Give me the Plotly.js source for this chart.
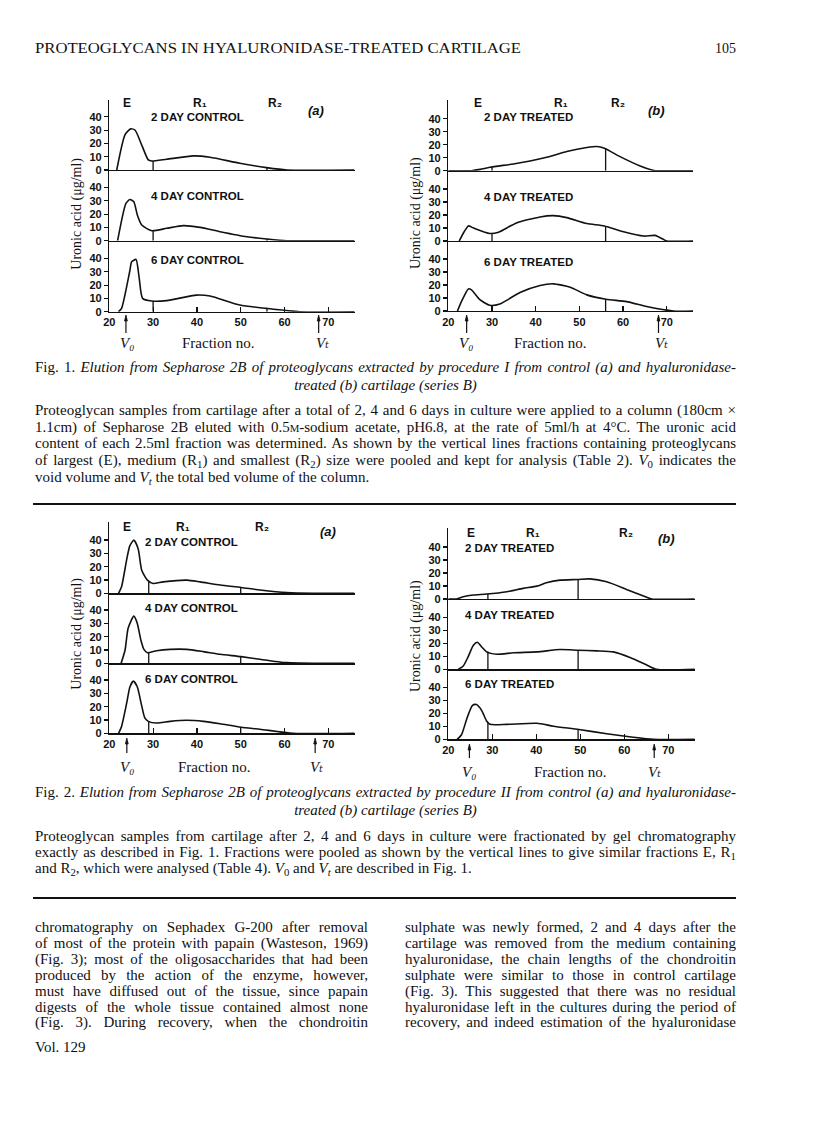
<!DOCTYPE html>
<html>
<head>
<meta charset="utf-8">
<script src="https://cdn.plot.ly/plotly-3.0.1.min.js"></script>
<style>
  html, body { margin: 0; padding: 0; background: #fff; }
  #page { position: relative; width: 816px; height: 1136px; overflow: hidden; background: #fff; }
  #chart { position: absolute; left: 0; top: 0; width: 816px; height: 1136px; }
  .ln { position: absolute; white-space: nowrap; font-family: 'Liberation Serif', serif;
        line-height: 16px; color: #111; transform-origin: 0 50%; }
  .ln sub { vertical-align: baseline; position: relative; top: 0.3em; }
  .it { font-style: italic; }
  .up { font-style: normal; }
  .rule { position: absolute; height: 2px; background: #111; }
</style>
</head>
<body>
<div id="page"><div id="chart"></div></div>
<script>
// ---- data (fraction no. vs uronic acid, µg/ml) ----

const xTicks = [20, 30, 40, 50, 60, 70];
const yTicks = [0, 10, 20, 30, 40];
const controlNames = ['2 DAY CONTROL', '4 DAY CONTROL', '6 DAY CONTROL'];
const treatedNames = ['2 DAY TREATED', '4 DAY TREATED', '6 DAY TREATED'];
const poolNames = ['E', 'R₁', 'R₂'];

// Fig. 1 (a) control
const f1a2x = [21.7, 23.6, 24.9, 25.9, 27.5, 28.9, 29.7, 33.1, 39.2, 43, 49.8, 55.9, 60.5, 76];
const f1a2y = [0, 26.6, 30.9, 29.9, 18, 7.6, 6.8, 8.1, 10.6, 9.6, 5.1, 1.8, 0, 0];
const f1a4x = [21.9, 23.8, 24.7, 25.6, 26.4, 27.4, 29.7, 33.1, 36.9, 40.7, 45.3, 51.4, 55.9, 60.5, 76];
const f1a4y = [0, 28, 31, 29.3, 19.3, 11.8, 7.5, 9.3, 11.3, 10, 6.8, 3, 1.3, 0, 0];
const f1a6x = [22.1, 22.8, 24.7, 25.1, 26.1, 26.8, 27.6, 29.7, 33.1, 39.9, 43, 49.8, 55.9, 63.5, 76];
const f1a6y = [0, 2.5, 31, 37.5, 39.3, 26, 10, 8, 8.3, 12.5, 11.8, 5, 2.5, 0, 0];
const f1aCuts = [30, 56];
const f1aCutH = [[6.8, 1.8], [7.5, 1.3], [8, 2.5]];

// Fig. 1 (b) treated
const f1b2x = [20, 25.3, 27.3, 29.5, 34.9, 38.7, 42.5, 47.1, 51.7, 54, 55.7, 59.3, 63.9, 66.6, 67.5, 76];
const f1b2y = [0, 0, 1, 2.6, 5.2, 7.5, 10.3, 14.7, 17.8, 18.6, 17.3, 10.8, 3.6, 0.5, 0, 0];
const f1b4x = [22.5, 23.4, 24.6, 25.7, 29.5, 31.5, 35.6, 41, 44, 47.1, 51.7, 55.7, 60.1, 64.7, 67.3, 69.2, 70, 76];
const f1b4y = [0, 5.8, 11.6, 10.1, 5.8, 6.8, 13.9, 18.5, 19.5, 18, 13.4, 11.6, 7.1, 3.8, 4.3, 1.3, 0, 0];
const f1b6x = [22.1, 23, 24.6, 25.3, 27.3, 29.5, 31.8, 36.4, 41, 44, 47.9, 51.7, 56.1, 60.8, 65.4, 71.5, 76];
const f1b6y = [0, 7.2, 17, 16.3, 8.5, 4.4, 5.4, 14.2, 19.6, 20.9, 18.3, 12.4, 9, 7.2, 3.4, 0, 0];
const f1bCuts = [30, 56];
const f1bCutH = [[2.6, 17.3], [5.8, 11.6], [4.4, 9]];

// Fig. 2 (a) control
const f2a2x = [22.1, 22.8, 24, 24.7, 25.6, 26.6, 27.4, 28.7, 30, 32.3, 37.7, 40.7, 45.3, 50.1, 54.4, 60.5, 66.6, 76];
const f2a2y = [0, 4.9, 25.9, 35.8, 40, 33.3, 17.3, 9.9, 7.4, 8.6, 9.9, 8.6, 6.2, 4.4, 2.5, 0.5, 0, 0];
const f2a4x = [22.7, 23.6, 24.3, 25.6, 26.4, 27.2, 27.9, 28.7, 30.8, 33.9, 37.7, 41.5, 45.3, 50.1, 54.4, 60.5, 66.6, 76];
const f2a4y = [0, 10, 26.3, 35.5, 30, 17.5, 10.5, 8, 9.5, 10.5, 10.5, 8.75, 6.75, 5, 3, 0.5, 0, 0];
const f2a6x = [22.1, 22.8, 24, 24.7, 25.5, 26.4, 27.4, 28.1, 28.9, 30.8, 33.9, 37.7, 41.5, 45.3, 50.1, 54.4, 62, 76];
const f2a6y = [0, 5.2, 23.2, 34.8, 39.2, 34.8, 20.6, 11.6, 9, 7.7, 9, 9.8, 9, 7.2, 4.6, 3.1, 0, 0];
const f2aCuts = [29, 50];
const f2aCutH = [[8.8, 4.4], [8.3, 5], [9, 4.6]];

// Fig. 2 (b) treated
const f2b2x = [20, 21.9, 23.4, 25.7, 28.7, 33.3, 37, 40.1, 42.3, 45.4, 49.4, 52.2, 56, 60.5, 65.1, 66.2, 76];
const f2b2y = [0, 0, 1.8, 3.1, 3.8, 5.6, 8.2, 9.9, 12.5, 14.5, 15, 15.5, 13.2, 7.4, 1.3, 0, 0];
const f2b4x = [22.3, 23.4, 24.5, 25.7, 26.6, 27.6, 28.7, 31, 34.8, 40.1, 45.4, 49.4, 53.7, 57.5, 61.3, 65.1, 67.3, 76];
const f2b4y = [0, 2.5, 9.6, 18.5, 20.8, 17.2, 13.4, 11.6, 12.7, 13.4, 15.2, 14.7, 14.2, 13.4, 9.1, 3.3, 0, 0];
const f2b6x = [22, 23, 24.3, 25.5, 26.4, 27.6, 28.7, 29.5, 33.3, 40.1, 43.9, 49.7, 56, 62, 66.6, 76];
const f2b6y = [0, 3.5, 16.8, 26.1, 26.7, 22.1, 14.1, 11.5, 11.5, 12.3, 10.1, 7.5, 4.3, 1.6, 0, 0];
const f2bCuts = [29, 49.5];
const f2bCutH = [[3.8, 15], [13.6, 14.8], [13, 7.6]];

// void volume / total bed volume arrows (fraction no.), one per panel
const v0At = [23.8, 24.2, 24, 24.8];
const vtAt = [67.8, 68.1, 67, 66.8];

// ---- page text ----
const headerText = 'PROTEOGLYCANS IN HYALURONIDASE-TREATED CARTILAGE';
const pageNo = '105';
const caption1 = [
  '<span class="up">Fig. 1.</span> Elution from Sepharose 2B of proteoglycans extracted by procedure I from control (a) and hyaluronidase-',
  'treated (b) cartilage (series B)'];
const para1 = [
  'Proteoglycan samples from cartilage after a total of 2, 4 and 6 days in culture were applied to a column (180cm ×',
  '1.1cm) of Sepharose 2B eluted with 0.5<small>M</small>-sodium acetate, pH6.8, at the rate of 5ml/h at 4°C. The uronic acid',
  'content of each 2.5ml fraction was determined. As shown by the vertical lines fractions containing proteoglycans',
  'of largest (E), medium (R<sub>1</sub>) and smallest (R<sub>2</sub>) size were pooled and kept for analysis (Table 2). <i>V</i><sub>0</sub> indicates the',
  'void volume and <i>V<sub>t</sub></i> the total bed volume of the column.'];
const caption2 = [
  '<span class="up">Fig. 2.</span> Elution from Sepharose 2B of proteoglycans extracted by procedure II from control (a) and hyaluronidase-',
  'treated (b) cartilage (series B)'];
const para2 = [
  'Proteoglycan samples from cartilage after 2, 4 and 6 days in culture were fractionated by gel chromatography',
  'exactly as described in Fig. 1. Fractions were pooled as shown by the vertical lines to give similar fractions E, R<sub>1</sub>',
  'and R<sub>2</sub>, which were analysed (Table 4). <i>V</i><sub>0</sub> and <i>V<sub>t</sub></i> are described in Fig. 1.'];
const bodyLeft = [
  'chromatography on Sephadex G-200 after removal',
  'of most of the protein with papain (Wasteson, 1969)',
  '(Fig. 3); most of the oligosaccharides that had been',
  'produced by the action of the enzyme, however,',
  'must have diffused out of the tissue, since papain',
  'digests of the whole tissue contained almost none',
  '(Fig. 3). During recovery, when the chondroitin'];
const bodyRight = [
  'sulphate was newly formed, 2 and 4 days after the',
  'cartilage was removed from the medium containing',
  'hyaluronidase, the chain lengths of the chondroitin',
  'sulphate were similar to those in control cartilage',
  '(Fig. 3). This suggested that there was no residual',
  'hyaluronidase left in the cultures during the period of',
  'recovery, and indeed estimation of the hyaluronidase'];
const footer = 'Vol. 129';

// ---- geometry (page pixels) ----
const W = 816, H = 1136;
const INK = '#111';
const SANS = 'Liberation Sans, DejaVu Sans, sans-serif';
const SERIF = 'Liberation Serif, DejaVu Serif, serif';
const TICKFONT = { family: SANS, size: 11, color: INK, weight: 'bold' };

const PANELS = [
  { curves: [[f1a2x, f1a2y], [f1a4x, f1a4y], [f1a6x, f1a6y]], cuts: f1aCuts, cutH: f1aCutH, names: controlNames, tag: '(a)',
    geo: { x20: 109.3, ppx: 4.38, top: 100, zeros: [170, 240.7, 311.7], ppy: 1.33 },
    pool: [[126.7, 103], [200, 103], [275, 103]], tagAt: [316, 111],
    nameX: 149.3, nameY: [117.3, 195.7, 260], yTitle: [76.7, 214],
    foot: { y: 343.3, v0: 126.7, frac: 218, vt: 322 }, arrow: [315, 333] },
  { curves: [[f1b2x, f1b2y], [f1b4x, f1b4y], [f1b6x, f1b6y]], cuts: f1bCuts, cutH: f1bCutH, names: treatedNames, tag: '(b)',
    geo: { x20: 448.3, ppx: 4.37, top: 100, zeros: [170.7, 241, 311], ppy: 1.30 },
    pool: [[477.7, 103], [561, 103], [617.7, 103]], tagAt: [656.7, 110.7],
    nameX: 481.7, nameY: [117.3, 196.7, 261.7], yTitle: [416, 213],
    foot: { y: 343.3, v0: 466, frac: 550, vt: 661.7 }, arrow: [315, 333] },
  { curves: [[f2a2x, f2a2y], [f2a4x, f2a4y], [f2a6x, f2a6y]], cuts: f2aCuts, cutH: f2aCutH, names: controlNames, tag: '(a)',
    geo: { x20: 109.3, ppx: 4.38, top: 521.7, zeros: [593.3, 663.3, 733.3], ppy: 1.33 },
    pool: [[126.7, 526.7], [183.3, 526.7], [261.7, 526.7]], tagAt: [328.3, 531.7],
    nameX: 143.3, nameY: [541.7, 608.3, 679], yTitle: [76.7, 634],
    foot: { y: 766.7, v0: 126.7, frac: 214, vt: 316 }, arrow: [738, 753] },
  { curves: [[f2b2x, f2b2y], [f2b4x, f2b4y], [f2b6x, f2b6y]], cuts: f2bCuts, cutH: f2bCutH, names: treatedNames, tag: '(b)',
    geo: { x20: 448.3, ppx: 4.4, top: 528.3, zeros: [599, 669.3, 739.3], ppy: 1.30 },
    pool: [[470.7, 532.7], [533.3, 532.7], [626, 532.7]], tagAt: [666.7, 538.3],
    nameX: 462.7, nameY: [548.3, 615, 684.3], yTitle: [416, 636],
    foot: { y: 771.7, v0: 469.3, frac: 570.7, vt: 654.3 }, arrow: [744, 758] },
];

const fx = p => p / W;
const fy = p => 1 - p / H;

const layout = {
  width: W, height: H,
  margin: { l: 0, r: 0, t: 0, b: 0 },
  paper_bgcolor: 'rgba(0,0,0,0)', plot_bgcolor: 'rgba(0,0,0,0)',
  showlegend: false,
  annotations: [],
  shapes: [],
};
const traces = [];

function note(text, x, y, font, extra) {
  layout.annotations.push(Object.assign({
    text, x: fx(x), y: fy(y), xref: 'paper', yref: 'paper',
    showarrow: false, xanchor: 'center', yanchor: 'middle', font,
  }, extra || {}));
}

PANELS.forEach((p, pi) => {
  const g = p.geo;
  const xDom = [fx(g.x20), fx(g.x20 + 56 * g.ppx)];
  p.curves.forEach((c, si) => {
    const n = pi * 3 + si + 1;
    const sfx = n === 1 ? '' : String(n);
    const top = si === 0 ? g.top : g.zeros[si - 1];
    const zero = g.zeros[si];
    const bottom = si === 2;
    layout['xaxis' + sfx] = {
      domain: xDom, range: [20, 76], anchor: 'y' + sfx,
      showline: true, linecolor: INK, linewidth: 1.4, showgrid: false, zeroline: false,
      ticks: bottom ? 'inside' : '', ticklen: 5, tickwidth: 1.2, tickcolor: INK,
      tickvals: xTicks, ticktext: xTicks.map(String), showticklabels: bottom,
      tickfont: TICKFONT, fixedrange: true,
    };
    layout['yaxis' + sfx] = {
      domain: [fy(zero), fy(top)], range: [0, (zero - top) / g.ppy], anchor: 'x' + sfx,
      showline: true, linecolor: INK, linewidth: 1.4, showgrid: false, zeroline: false,
      ticks: 'outside', ticklen: 4, tickwidth: 1.2, tickcolor: INK,
      tickvals: yTicks, ticktext: yTicks.map(String), tickfont: TICKFONT, fixedrange: true,
    };
    traces.push({
      x: c[0], y: c[1], xaxis: 'x' + sfx, yaxis: 'y' + sfx, mode: 'lines',
      line: { shape: 'spline', smoothing: 0.6, width: 1.6, color: INK }, hoverinfo: 'skip',
    });
    const dx = [], dy = [];
    p.cuts.forEach((cx, k) => { dx.push(cx, cx, null); dy.push(0, p.cutH[si][k], null); });
    traces.push({
      x: dx, y: dy, xaxis: 'x' + sfx, yaxis: 'y' + sfx, mode: 'lines',
      line: { width: 1.3, color: INK }, hoverinfo: 'skip',
    });
    note(p.names[si], p.nameX, p.nameY[si], { family: SANS, size: 11.5, color: INK, weight: 'bold' }, { xanchor: 'left' });
  });

  // pooled-fraction labels and panel tag
  poolNames.forEach((t, k) => note(t, p.pool[k][0], p.pool[k][1], { family: SANS, size: 12, color: INK, weight: 'bold' }));
  note(p.tag, p.tagAt[0], p.tagAt[1], { family: SANS, size: 13, color: INK, weight: 'bold', style: 'italic' });

  // y title spanning the three stacked plots
  note('Uronic acid (μg/ml)', p.yTitle[0], p.yTitle[1], { family: SERIF, size: 14, color: INK }, { textangle: -90 });

  // footer labels
  const serif = { family: SERIF, size: 15, color: INK };
  const serifIt = { family: SERIF, size: 15, color: INK, style: 'italic' };
  note('V₀', p.foot.v0, p.foot.y, serifIt);
  note('Fraction no.', p.foot.frac, p.foot.y, serif);
  note('Vₜ', p.foot.vt, p.foot.y, serifIt);

  // V0 / Vt arrows under the bottom axis (stem + head, x on the fraction axis)
  const xa = 'x' + (pi * 3 + 3);
  const tip = p.arrow[0], tail = p.arrow[1];
  const headW = 1.4 / g.ppx;
  [v0At[pi], vtAt[pi]].forEach(v => {
    layout.shapes.push({
      type: 'line', xref: xa, yref: 'paper', x0: v, x1: v, y0: fy(tail), y1: fy(tip + 3),
      line: { color: INK, width: 1.2 },
    });
    layout.shapes.push({
      type: 'path', xref: xa, yref: 'paper',
      path: `M ${v - headW} ${fy(tip + 6)} L ${v} ${fy(tip)} L ${v + headW} ${fy(tip + 6)} Z`,
      fillcolor: INK, line: { color: INK, width: 0.8 },
    });
  });
});

Plotly.newPlot('chart', traces, layout, { staticPlot: true, displayModeBar: false });

// ---- page prose (set line by line, justified like the print) ----
const page = document.getElementById('page');
const PROSE = 15;

function setLine(html, cfg) {
  const el = document.createElement('div');
  el.className = 'ln' + (cfg.italic ? ' it' : '');
  const size = cfg.size || PROSE;
  el.style.fontSize = size + 'px';
  el.innerHTML = html;
  el.querySelectorAll('sub, small').forEach(c => { c.style.fontSize = (size * 0.72).toFixed(1) + 'px'; });
  page.appendChild(el);
  const natural = el.getBoundingClientRect().width;
  el.style.top = (cfg.y - 8) + 'px';
  let left = cfg.x;
  let scale = 1;
  if (cfg.align === 'justify') {
    const gaps = (el.textContent.match(/ /g) || []).length;
    if (natural < cfg.w && gaps) el.style.wordSpacing = ((cfg.w - natural) / gaps) + 'px';
    else if (natural > cfg.w) scale = cfg.w / natural;
  } else if (cfg.align === 'fit') {
    scale = cfg.w / natural;
  } else if (cfg.align === 'center') {
    left = cfg.x + (cfg.w - natural) / 2;
  } else if (cfg.align === 'right') {
    left = cfg.x + cfg.w - natural;
  } else if (cfg.scale) {
    scale = cfg.scale;
  }
  if (scale !== 1) el.style.transform = `scaleX(${scale})`;
  el.style.left = left + 'px';
  return Math.min(1, cfg.w / natural);
}

function block(lines, x, w, y0, dy, opts) {
  const o = opts || {};
  const ratios = [];
  lines.forEach((t, i) => {
    const last = i === lines.length - 1 && o.lastLeft;
    if (!last) ratios.push(setLine(t, { x, w, y: y0 + i * dy, align: 'justify', italic: o.italic }));
    else {
      const s = ratios.length ? ratios.reduce((a, b) => a + b, 0) / ratios.length : 1;
      setLine(t, { x, w, y: y0 + i * dy, align: 'left', scale: s, italic: o.italic });
    }
  });
}

function rule(y, x0, x1) {
  const r = document.createElement('div');
  r.className = 'rule';
  r.style.left = x0 + 'px'; r.style.width = (x1 - x0) + 'px'; r.style.top = (y - 1) + 'px';
  page.appendChild(r);
}

const TX0 = 35, TX1 = 736;
setLine(headerText, { x: TX0, w: 486, y: 49, align: 'fit', size: 14 });
setLine(pageNo, { x: TX0, w: TX1 - TX0, y: 49, align: 'right', size: 14 });

setLine(caption1[0], { x: TX0, w: TX1 - TX0, y: 367, align: 'justify', italic: true });
setLine(caption1[1], { x: TX0, w: TX1 - TX0, y: 385, align: 'center', italic: true });
block(para1, TX0, TX1 - TX0, 410, 16.7, { lastLeft: true });
rule(504, TX0 - 2, TX1);

setLine(caption2[0], { x: TX0, w: TX1 - TX0, y: 792, align: 'justify', italic: true });
setLine(caption2[1], { x: TX0, w: TX1 - TX0, y: 810, align: 'center', italic: true });
block(para2, TX0, TX1 - TX0, 836, 16, { lastLeft: true });
rule(898, TX0 - 2, TX1);

block(bodyLeft, TX0, 333, 927, 15.9);
block(bodyRight, 405, TX1 - 405, 927, 15.9);
setLine(footer, { x: TX0, w: 100, y: 1047, align: 'left' });
</script>
</body>
</html>
